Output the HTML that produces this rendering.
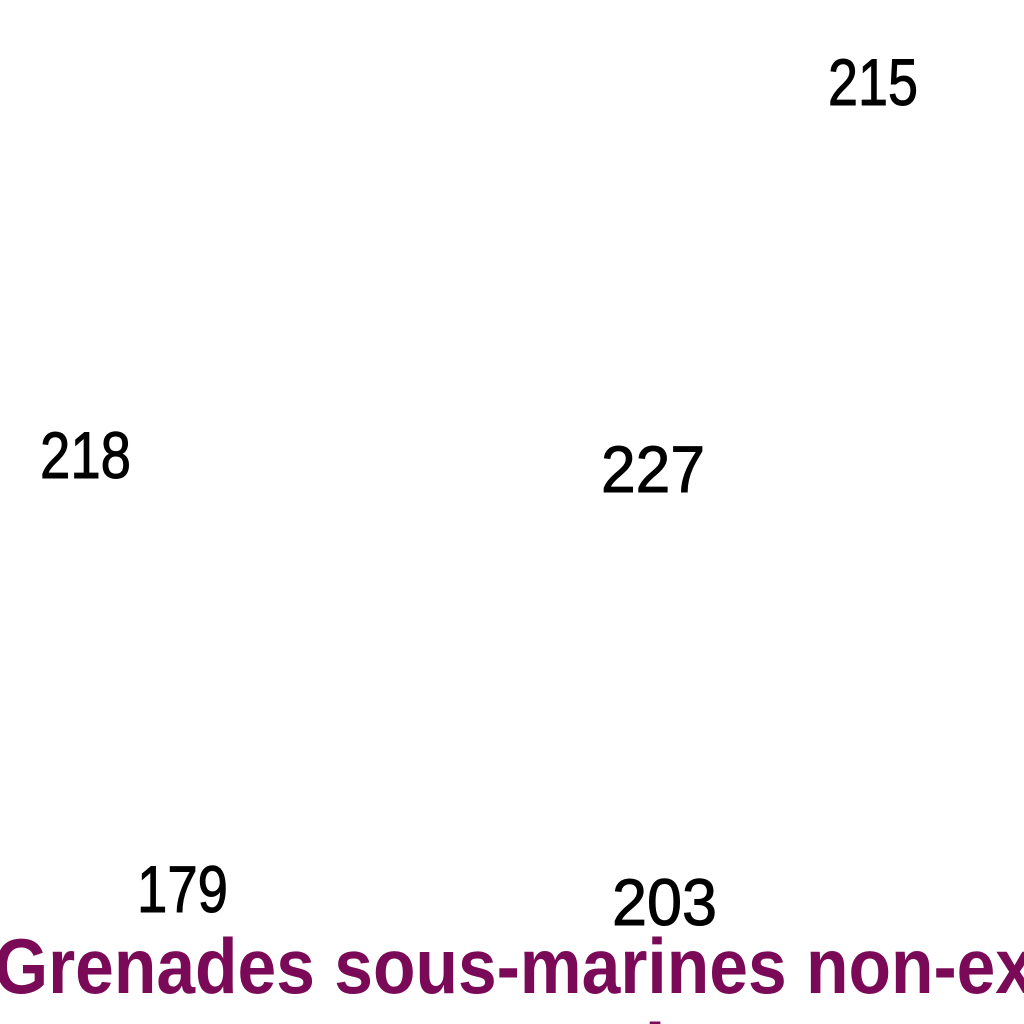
<!DOCTYPE html>
<html><head><meta charset="utf-8"><style>
html,body{margin:0;padding:0;background:#fff;width:1024px;height:1024px;overflow:hidden}
svg{display:block}
</style></head><body>
<svg id="chart" width="1024" height="1024" viewBox="0 0 1024 1024" xmlns="http://www.w3.org/2000/svg">
<defs><clipPath id="frame"><rect x="0" y="0" width="1024" height="1024"/></clipPath></defs>
<rect width="1024" height="1024" fill="#fff"/>
<g clip-path="url(#frame)">
<g id="labels"></g>
<text x="-6" y="993" textLength="1040" lengthAdjust="spacingAndGlyphs" font-family="Liberation Sans, sans-serif" font-weight="bold" font-size="78" fill="#7a0a57">Grenades sous-marines non-ex</text>
<text x="598" y="1078" font-family="Liberation Sans, sans-serif" font-weight="bold" font-size="78" fill="#7a0a57">Ti</text>
</g>
</svg>
<script>
const values = [215, 218, 227, 179, 203];
const labelX = [828, 40, 601, 137, 612];
const labelY = [105, 478, 492, 912, 925];
const labelW = [90, 91, 104, 91, 105];
const g = document.getElementById('labels');
values.forEach((v, i) => {
  const t = document.createElementNS('http://www.w3.org/2000/svg', 'text');
  
  
  t.setAttribute('x', labelX[i]);
  t.setAttribute('y', labelY[i]);
  t.setAttribute('textLength', labelW[i]);
  t.setAttribute('lengthAdjust', 'spacingAndGlyphs');
  t.setAttribute('font-family', 'Liberation Sans, sans-serif');
  t.setAttribute('font-size', '66');
  t.setAttribute('stroke', '#000');
  t.setAttribute('stroke-width', '1');
  t.setAttribute('fill', '#000');
  t.textContent = String(v);
  g.appendChild(t);
});
</script>
</body></html>
